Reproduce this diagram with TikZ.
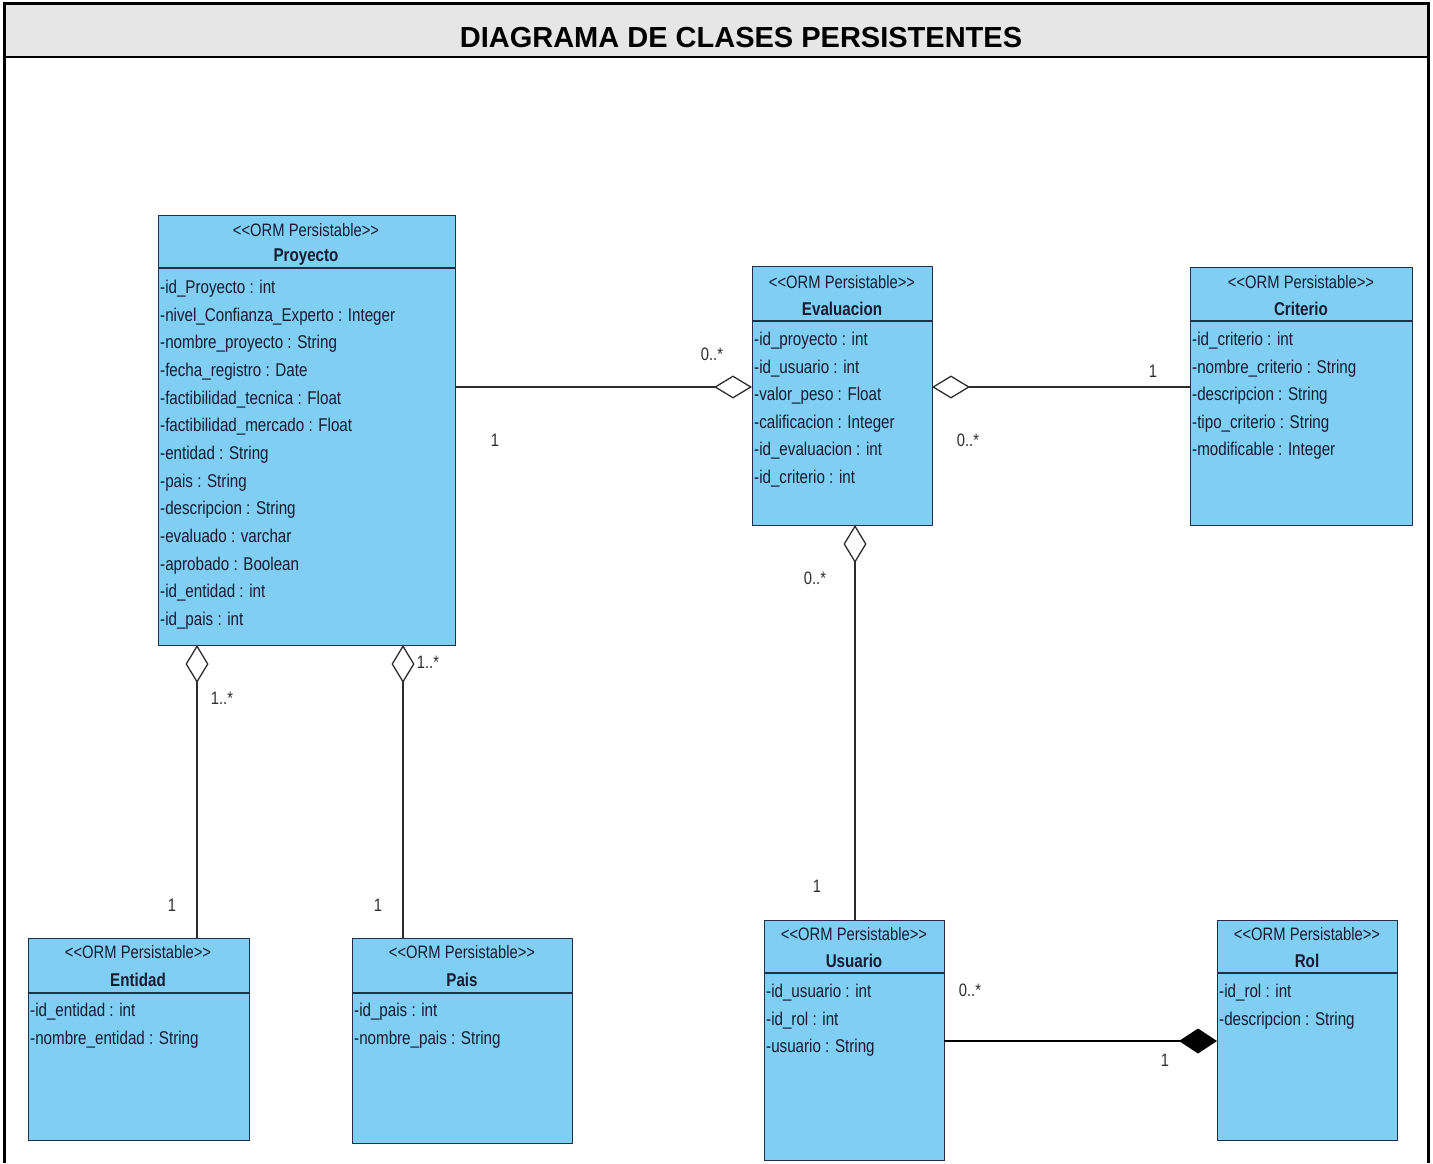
\documentclass[tikz,border=0pt]{standalone}
\usepackage{fontspec}
\setmainfont{Liberation Sans}
\newfontfamily\umlfont{Liberation Sans}[FakeStretch=0.82]
\usepackage{xcolor}
\usetikzlibrary{arrows.meta}

\definecolor{celeste}{RGB}{128,206,242}
\definecolor{borde}{RGB}{34,46,74}
\definecolor{texto}{RGB}{24,28,52}
\definecolor{gristitulo}{RGB}{230,230,230}
\definecolor{multgris}{RGB}{45,45,45}
\newcommand{\orm}{<\kern0pt<ORM Persistable>\kern0pt>}

\begin{document}
\begin{tikzpicture}[x=1pt,y=-1pt,
  clase/.style={draw=borde,fill=celeste,line width=1.3pt,anchor=north west,inner sep=0pt},
  divisor/.style={draw=borde,line width=1.3pt},
  estereo/.style={text=texto,font=\umlfont\fontsize{18}{20}\selectfont},
  nombre/.style={text=texto,font=\umlfont\bfseries\fontsize{18.5}{20}\selectfont},
  attr/.style={text=texto,font=\umlfont\fontsize{18.5}{20}\selectfont,anchor=base west,inner sep=0pt},
  mult/.style={text=multgris,font=\umlfont\fontsize{18}{20}\selectfont},
  agg/.style={draw=multgris,line width=1.3pt,-{Diamond[open,length=38pt,width=23pt,line width=1.3pt]}},
  comp/.style={draw=black,line width=1.3pt,-{Diamond[length=38pt,width=25pt]}}
]
\useasboundingbox (0,0) rectangle (1433,1163);
% marco y titulo
\fill[gristitulo] (4,3) rectangle (1428,57);
\draw[line width=3pt] (4,1163) -- (4,3) -- (1428,3) -- (1428,1163);
\draw[line width=2pt] (4,57) -- (1428,57);
\node[font=\bfseries\fontsize{29}{32}\selectfont] (titulo) at (741,38) {DIAGRAMA DE CLASES PERSISTENTES};

% Proyecto
\node[clase,minimum width=297pt,minimum height=430pt] (proyecto) at (158,215) {};
\draw[divisor] ([yshift=-53pt]proyecto.north west) -- ([yshift=-53pt]proyecto.north east);
\node[estereo] (proyecto-e) at (306,230) {\orm};
\node[nombre] (proyecto-n) at (306,257) {Proyecto};
\foreach \a [count=\i from 0] in {-id\_Proyecto : int,-nivel\_Confianza\_Experto : Integer,
  -nombre\_proyecto : String,-fecha\_registro : Date,-factibilidad\_tecnica : Float,
  -factibilidad\_mercado : Float,-entidad : String,-pais : String,-descripcion : String,
  -evaluado : varchar,-aprobado : Boolean,-id\_entidad : int,-id\_pais : int}
  \node[attr] (proyecto-a\i) at (160,293.5+27.65*\i) {\a};

% Evaluacion
\node[clase,minimum width=180pt,minimum height=259pt] (evaluacion) at (752,266) {};
\draw[divisor] ([yshift=-55pt]evaluacion.north west) -- ([yshift=-55pt]evaluacion.north east);
\node[estereo] (evaluacion-e) at (842,282) {\orm};
\node[nombre] (evaluacion-n) at (842,309) {Evaluacion};
\foreach \a [count=\i from 0] in {-id\_proyecto : int,-id\_usuario : int,-valor\_peso : Float,
  -calificacion : Integer,-id\_evaluacion : int,-id\_criterio : int}
  \node[attr] (evaluacion-a\i) at (754,345.5+27.6*\i) {\a};

% Criterio
\node[clase,minimum width=222pt,minimum height=258pt] (criterio) at (1190,267) {};
\draw[divisor] ([yshift=-54pt]criterio.north west) -- ([yshift=-54pt]criterio.north east);
\node[estereo] (criterio-e) at (1301,282) {\orm};
\node[nombre] (criterio-n) at (1301,309) {Criterio};
\foreach \a [count=\i from 0] in {-id\_criterio : int,-nombre\_criterio : String,
  -descripcion : String,-tipo\_criterio : String,-modificable : Integer}
  \node[attr] (criterio-a\i) at (1192,345.5+27.6*\i) {\a};

% Entidad
\node[clase,minimum width=221pt,minimum height=202pt] (entidad) at (28,938) {};
\draw[divisor] ([yshift=-55pt]entidad.north west) -- ([yshift=-55pt]entidad.north east);
\node[estereo] (entidad-e) at (138,952) {\orm};
\node[nombre] (entidad-n) at (138,980) {Entidad};
\node[attr] (entidad-a0) at (30,1016.5) {-id\_entidad : int};
\node[attr] (entidad-a1) at (30,1044) {-nombre\_entidad : String};

% Pais
\node[clase,minimum width=220pt,minimum height=205pt] (pais) at (352,938) {};
\draw[divisor] ([yshift=-55pt]pais.north west) -- ([yshift=-55pt]pais.north east);
\node[estereo] (pais-e) at (462,952) {\orm};
\node[nombre] (pais-n) at (462,980) {Pais};
\node[attr] (pais-a0) at (354,1016.5) {-id\_pais : int};
\node[attr] (pais-a1) at (354,1044) {-nombre\_pais : String};

% Usuario
\node[clase,minimum width=180pt,minimum height=240pt] (usuario) at (764,920) {};
\draw[divisor] ([yshift=-53pt]usuario.north west) -- ([yshift=-53pt]usuario.north east);
\node[estereo] (usuario-e) at (854,934) {\orm};
\node[nombre] (usuario-n) at (854,961) {Usuario};
\node[attr] (usuario-a0) at (766,997.5) {-id\_usuario : int};
\node[attr] (usuario-a1) at (766,1025) {-id\_rol : int};
\node[attr] (usuario-a2) at (766,1052.5) {-usuario : String};

% Rol
\node[clase,minimum width=180pt,minimum height=220pt] (rol) at (1217,920) {};
\draw[divisor] ([yshift=-53pt]rol.north west) -- ([yshift=-53pt]rol.north east);
\node[estereo] (rol-e) at (1307,934) {\orm};
\node[nombre] (rol-n) at (1307,961) {Rol};
\node[attr] (rol-a0) at (1219,997.5) {-id\_rol : int};
\node[attr] (rol-a1) at (1219,1025) {-descripcion : String};

% puntos de las asociaciones
\coordinate (proyecto-der) at (455,387);
\coordinate (evaluacion-izq) at (752,387);
\coordinate (evaluacion-der) at (932,387);
\coordinate (criterio-izq) at (1190,387);
\coordinate (evaluacion-abj) at (855,525);
\coordinate (usuario-arr) at (855,920);
\coordinate (proyecto-abj1) at (197,645);
\coordinate (entidad-arr) at (197,938);
\coordinate (proyecto-abj2) at (403,645);
\coordinate (pais-arr) at (403,938);
\coordinate (usuario-der) at (944,1041);
\coordinate (rol-izq) at (1217,1041);

\draw[agg] (proyecto-der) -- (evaluacion-izq);
\draw[agg] (criterio-izq) -- (evaluacion-der);
\draw[agg] (usuario-arr) -- (evaluacion-abj);
\draw[agg] (entidad-arr) -- (proyecto-abj1);
\draw[agg] (pais-arr) -- (proyecto-abj2);
\draw[comp] (usuario-der) -- (rol-izq);

% multiplicidades
\node[mult] (m-pe1) at (712,354) {0..*};
\node[mult] (m-pe2) at (495,440) {1};
\node[mult] (m-ce1) at (1153,371) {1};
\node[mult] (m-ce2) at (968,440) {0..*};
\node[mult] (m-ue1) at (815,578) {0..*};
\node[mult] (m-ue2) at (817,886) {1};
\node[mult] (m-en1) at (222,698) {1..*};
\node[mult] (m-en2) at (172,905) {1};
\node[mult] (m-pa1) at (428,662) {1..*};
\node[mult] (m-pa2) at (378,905) {1};
\node[mult] (m-ur1) at (970,990) {0..*};
\node[mult] (m-ur2) at (1165,1060) {1};
\end{tikzpicture}
\end{document}
